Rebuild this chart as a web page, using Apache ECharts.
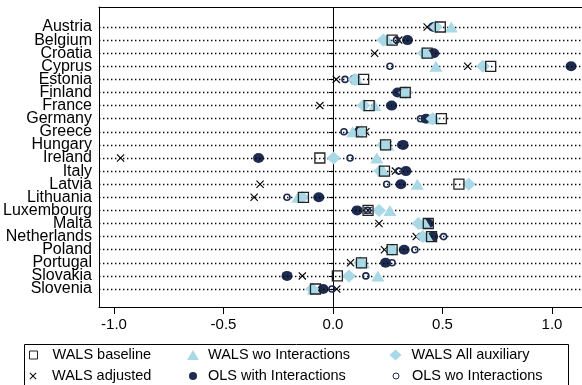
<!DOCTYPE html>
<html>
<head>
<meta charset="utf-8">
<script src="https://cdn.jsdelivr.net/npm/echarts@6/dist/echarts.min.js"></script>
<style>
html,body{margin:0;padding:0;background:#fff;}
#chart{width:582px;height:385px;}
</style>
</head>
<body>
<div id="chart"></div>
<script>
const countries = ["Austria","Belgium","Croatia","Cyprus","Estonia","Finland","France","Germany","Greece","Hungary","Ireland","Italy","Latvia","Lithuania","Luxembourg","Malta","Netherlands","Poland","Portugal","Slovakia","Slovenia"];
const xTicks = [-1.0, -0.5, 0.0, 0.5, 1.0];

const walsBaseline = [0.49,0.27,0.43,0.72,0.14,0.33,0.165,0.495,0.13,0.24,-0.06,0.235,0.575,-0.135,0.16,0.435,0.45,0.27,0.13,0.02,-0.08];
const walsAdjusted = [0.43,0.30,0.19,0.615,0.015,0.31,-0.06,0.43,0.15,0.25,-0.97,0.285,-0.333,-0.36,0.16,0.21,0.38,0.235,0.08,-0.14,0.017];
const walsWoInter = [0.54,0.25,0.43,0.47,0.11,0.33,0.19,0.46,0.09,0.25,0.20,0.23,0.385,-0.16,0.26,0.42,0.43,0.27,0.14,0.205,-0.09];
const walsAllAux = [0.47,0.23,0.415,0.685,0.10,0.33,0.14,0.455,0.13,0.23,0.003,0.215,0.62,-0.14,0.21,0.39,0.41,0.27,0.125,0.073,-0.095];
const olsWithInter = [0.46,0.34,0.46,1.087,0.10,0.295,0.268,0.425,0.12,0.32,-0.34,0.333,0.31,-0.065,0.11,0.435,0.455,0.325,0.24,-0.21,-0.045];
const olsWoInter = [0.47,0.29,0.44,0.26,0.055,0.32,0.26,0.40,0.05,0.31,0.078,0.30,0.245,-0.21,0.158,0.43,0.505,0.374,0.27,0.15,-0.005];

const LB = '#a9d9e6';
const NAVY = '#1d2b50';
const FONT = 'Liberation Sans, Arial, sans-serif';
const XPATH = 'path://M0,1 L1,0 L5,4 L9,0 L10,1 L6,5 L10,9 L9,10 L5,6 L1,10 L0,9 L4,5 Z';
const X_MIN = -1.0685, X_MAX = 1.137;

function pts(vals){ return vals.map((v,i)=>[v,countries[i]]); }

const chart = echarts.init(document.getElementById('chart'), null, {renderer:'canvas'});

function sc(name, vals, symbol, size, z, itemStyle){
  return {type:'scatter', name:name, data:pts(vals), symbol:symbol, symbolSize:size, z:z,
    xAxisIndex:0, yAxisIndex:0, itemStyle:itemStyle};
}

const series = [
  {
    type:'scatter', name:'_lines', data:[], z:1, silent:true, xAxisIndex:0, yAxisIndex:0,
    markLine:{
      silent:true, symbol:['none','none'], label:{show:false}, animation:false,
      lineStyle:{color:'#000', type:[1.4,2.6], width:1.4},
      data: countries.map(c=>({yAxis:c}))
    }
  },
  {
    type:'scatter', name:'_zero', data:[], z:1, silent:true, xAxisIndex:1, yAxisIndex:1,
    markLine:{
      silent:true, symbol:['none','none'], label:{show:false}, animation:false,
      lineStyle:{color:'#000', type:'solid', width:1},
      data:[{xAxis:0}]
    }
  },
  sc('WALS adjusted', walsAdjusted, XPATH, 8, 3, {color:'#000', opacity:1}),
  sc('OLS with Interactions', olsWithInter, 'circle', [11,10], 4, {color:NAVY, opacity:1}),
  sc('OLS wo Interactions', olsWoInter, 'circle', 6, 5, {color:'rgba(255,255,255,0)', borderColor:NAVY, borderWidth:1.6, opacity:1}),
  sc('WALS wo Interactions', walsWoInter, 'triangle', [13,11], 6, {color:LB, opacity:1}),
  sc('WALS All auxiliary', walsAllAux, 'diamond', [14,13], 7, {color:LB, opacity:1}),
  sc('WALS baseline', walsBaseline, 'rect', 10, 8, {color:'rgba(255,255,255,0)', borderColor:'#222', borderWidth:1.3, opacity:1})
];

function leg(name, left, top, w, h, pad){
  return {
    data:[name], left:left, top:top, itemWidth:w, itemHeight:h, padding:0,
    selectedMode:false, orient:'horizontal',
    itemStyle:{borderWidth:1},
    textStyle:{fontSize:14.5, color:'#000', fontFamily:FONT, lineHeight:16, padding:[0,0,0,pad]}
  };
}

const option = {
  animation:false,
  backgroundColor:'#fff',
  grid:[
    {left:99, top:20.45, width:483, height:275.1, show:false, containLabel:false},
    {left:99, top:7, width:483, height:300, show:false, containLabel:false}
  ],
  xAxis:[{
    gridIndex:0, type:'value', min:X_MIN, max:X_MAX,
    axisLine:{show:false}, axisTick:{show:false}, axisLabel:{show:false}, splitLine:{show:false}
  },{
    gridIndex:1, type:'value', position:'bottom', min:X_MIN, max:X_MAX,
    axisLine:{show:true, onZero:false, lineStyle:{color:'#000', width:1}},
    axisTick:{show:true, customValues:xTicks, length:7, lineStyle:{color:'#000'}},
    axisLabel:{show:true, customValues:xTicks, showMinLabel:true, showMaxLabel:true, formatter:v=>Number(v).toFixed(1), fontSize:15, color:'#000', fontFamily:FONT, margin:10},
    splitLine:{show:false}
  },{
    gridIndex:1, type:'value', position:'top', min:X_MIN, max:X_MAX,
    axisLine:{show:true, onZero:false, lineStyle:{color:'#000', width:1}},
    axisTick:{show:false}, axisLabel:{show:false}, splitLine:{show:false}
  }],
  yAxis:[{
    gridIndex:0, type:'category', data:countries, inverse:true, boundaryGap:true,
    axisLine:{show:false},
    axisTick:{show:true, interval:0, alignWithLabel:true, length:4, lineStyle:{color:'#000'}},
    axisLabel:{show:true, interval:0, fontSize:16, color:'#000', fontFamily:FONT, margin:7},
    splitLine:{show:false}
  },{
    gridIndex:1, type:'value', min:0, max:1,
    axisLine:{show:true, onZero:false, lineStyle:{color:'#000', width:1}},
    axisTick:{show:false}, axisLabel:{show:false}, splitLine:{show:false}
  }],
  legend:[
    leg('WALS baseline', 29, 347, 8, 8, 10),
    leg('WALS adjusted', 29.5, 368, 7, 7, 10.5),
    leg('WALS wo Interactions', 187, 347, 12, 10, 4),
    leg('OLS with Interactions', 189, 368, 8, 8, 6),
    leg('WALS All auxiliary', 389.5, 347, 12, 11, 5),
    leg('OLS wo Interactions', 392.5, 368, 6, 6, 8)
  ],
  graphic:[
    {type:'rect', left:22, top:342, shape:{width:544, height:60}, style:{fill:'none', stroke:'#000', lineWidth:1}, silent:true, z:0}
  ],
  series:series
};
chart.setOption(option);
</script>
</body>
</html>
